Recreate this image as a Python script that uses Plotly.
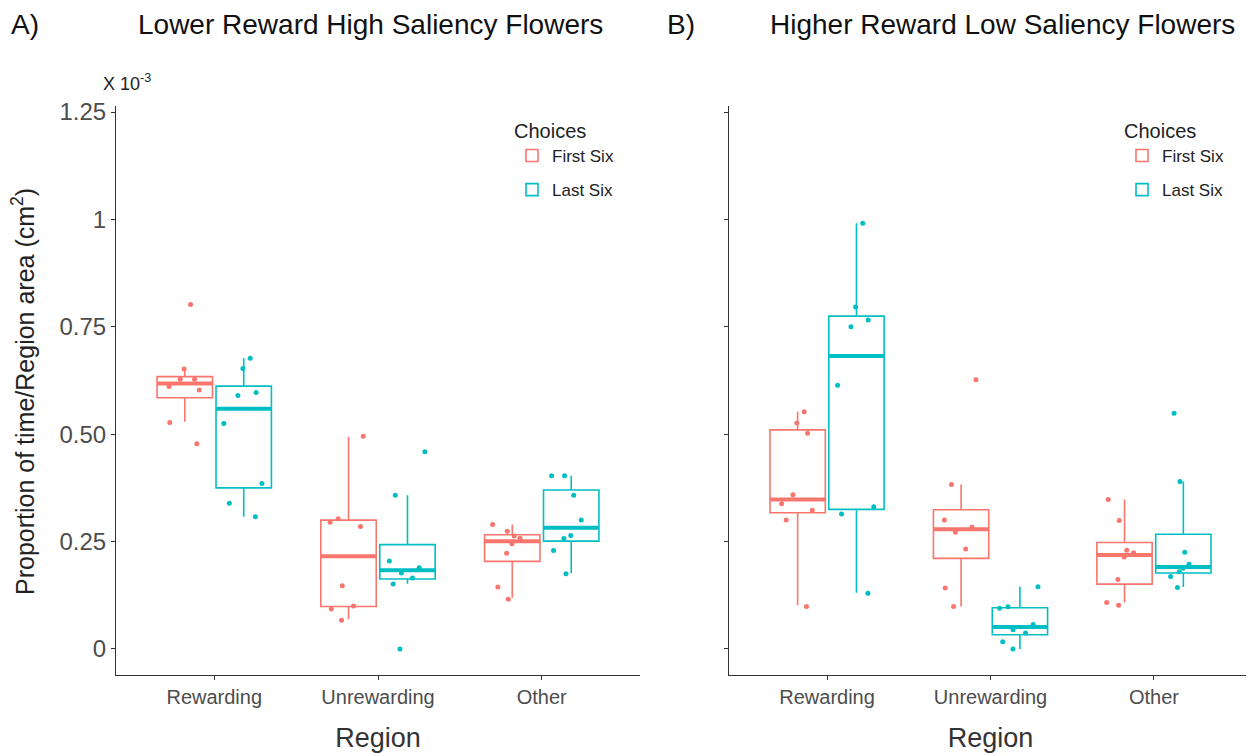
import plotly.graph_objects as go

categories = ["Rewarding", "Unrewarding", "Other"]
groups = ["First Six", "Last Six"]
colors = {"First Six": "#F8766D", "Last Six": "#00BFC4"}

# Individual observations (x 10^-3 proportion of time / region area)
A_first_rewarding = [0.802, 0.652, 0.628, 0.628, 0.611, 0.603, 0.527, 0.478]
A_first_unrewarding = [0.495, 0.303, 0.295, 0.285, 0.147, 0.100, 0.093, 0.067]
A_first_other = [0.290, 0.274, 0.263, 0.258, 0.245, 0.223, 0.144, 0.116]
A_last_rewarding = [0.677, 0.653, 0.597, 0.590, 0.525, 0.385, 0.339, 0.308]
A_last_unrewarding = [0.459, 0.358, 0.205, 0.189, 0.177, 0.165, 0.151, 0.000]
A_last_other = [0.403, 0.403, 0.358, 0.300, 0.264, 0.257, 0.229, 0.175]

B_first_rewarding = [0.552, 0.526, 0.502, 0.359, 0.338, 0.323, 0.300, 0.099]
B_first_unrewarding = [0.627, 0.383, 0.300, 0.284, 0.272, 0.233, 0.142, 0.099]
B_first_other = [0.348, 0.299, 0.230, 0.224, 0.214, 0.162, 0.108, 0.102]
B_last_rewarding = [0.991, 0.796, 0.766, 0.750, 0.614, 0.331, 0.314, 0.130]
B_last_unrewarding = [0.145, 0.098, 0.095, 0.057, 0.045, 0.037, 0.017, 0.000]
B_last_other = [0.549, 0.390, 0.225, 0.197, 0.188, 0.180, 0.169, 0.143]

# Box statistics per category: Rewarding, Unrewarding, Other
A_first_q1 = [0.585, 0.099, 0.204]
A_first_median = [0.618, 0.216, 0.251]
A_first_q3 = [0.634, 0.300, 0.266]
A_first_lo = [0.529, 0.069, 0.119]
A_first_hi = [0.652, 0.494, 0.290]
A_last_q1 = [0.375, 0.163, 0.251]
A_last_median = [0.559, 0.183, 0.282]
A_last_q3 = [0.612, 0.243, 0.370]
A_last_lo = [0.308, 0.152, 0.176]
A_last_hi = [0.677, 0.358, 0.403]

B_first_q1 = [0.317, 0.211, 0.151]
B_first_median = [0.348, 0.279, 0.219]
B_first_q3 = [0.510, 0.324, 0.248]
B_first_lo = [0.102, 0.099, 0.108]
B_first_hi = [0.552, 0.383, 0.348]
B_last_q1 = [0.325, 0.033, 0.177]
B_last_median = [0.682, 0.051, 0.191]
B_last_q3 = [0.775, 0.096, 0.267]
B_last_lo = [0.131, 0.000, 0.144]
B_last_hi = [0.991, 0.145, 0.390]

y_tickvals = [0, 0.25, 0.5, 0.75, 1, 1.25]
y_ticktext = ["0", "0.25", "0.50", "0.75", "1", "1.25"]

panels = {
    "A": {
        "First Six": ([A_first_rewarding, A_first_unrewarding, A_first_other],
                      (A_first_q1, A_first_median, A_first_q3, A_first_lo, A_first_hi)),
        "Last Six": ([A_last_rewarding, A_last_unrewarding, A_last_other],
                     (A_last_q1, A_last_median, A_last_q3, A_last_lo, A_last_hi)),
    },
    "B": {
        "First Six": ([B_first_rewarding, B_first_unrewarding, B_first_other],
                      (B_first_q1, B_first_median, B_first_q3, B_first_lo, B_first_hi)),
        "Last Six": ([B_last_rewarding, B_last_unrewarding, B_last_other],
                     (B_last_q1, B_last_median, B_last_q3, B_last_lo, B_last_hi)),
    },
}

axes = {"A": ("x", "y", "legend"), "B": ("x2", "y2", "legend2")}

fig = go.Figure()
for pname, pdata in panels.items():
    xa, ya, leg = axes[pname]
    for g in groups:
        pts, (q1, med, q3, lo, hi) = pdata[g]
        col = colors[g]
        og = g.replace(" ", "")
        fig.add_trace(go.Box(
            x=categories, q1=q1, median=med, q3=q3, lowerfence=lo, upperfence=hi,
            name=g, legend=leg, showlegend=True, legendgroup=pname + g,
            line=dict(color=col, width=1.6), fillcolor="rgba(255,255,255,0)",
            whiskerwidth=0, boxpoints=False, xaxis=xa, yaxis=ya,
            offsetgroup=og, alignmentgroup=pname, hoverinfo="skip",
        ))
        fig.add_trace(go.Box(
            x=categories, q1=med, median=med, q3=med, lowerfence=med, upperfence=med,
            name=g, showlegend=False, legendgroup=pname + g,
            line=dict(color=col, width=4), fillcolor="rgba(255,255,255,0)",
            whiskerwidth=0, boxpoints=False, xaxis=xa, yaxis=ya,
            offsetgroup=og, alignmentgroup=pname, hoverinfo="skip",
        ))
        xs, ys = [], []
        for c, vals in zip(categories, pts):
            xs += [c] * len(vals)
            ys += vals
        fig.add_trace(go.Box(
            x=xs, y=ys, name=g, showlegend=False, legendgroup=pname + g,
            boxpoints="all", jitter=0.85, pointpos=0,
            line=dict(color="rgba(0,0,0,0)", width=0), fillcolor="rgba(0,0,0,0)",
            whiskerwidth=0,
            marker=dict(color=col, size=5, line=dict(width=0)),
            xaxis=xa, yaxis=ya, offsetgroup=og, alignmentgroup=pname,
        ))

W, H = 1254, 756
OFF = 8  # page body margin offset


def fx(px):
    return (px - OFF) / W


def fy(py):
    return 1 - (py - OFF) / H


font_family = "Arial, Liberation Sans, sans-serif"
axis_common = dict(
    showline=True, linecolor="#333333", linewidth=1.2, mirror=False,
    ticks="outside", tickcolor="#333333", ticklen=4, tickwidth=1.2,
    showgrid=False, zeroline=False,
)
y_range = [-0.0605, 1.264]
ydom = [fy(674), fy(99)]
legend_common = dict(
    xanchor="left", yanchor="top",
    title=dict(text="Choices", font=dict(size=20, color="#222222")),
    font=dict(size=17, color="#222222"), bgcolor="rgba(0,0,0,0)",
    tracegroupgap=9, itemwidth=30,
)

fig.update_layout(
    width=W, height=H,
    margin=dict(l=0, r=0, t=0, b=0),
    paper_bgcolor="white", plot_bgcolor="white",
    font=dict(family=font_family, color="#222222"),
    boxmode="group", boxgap=0.28, boxgroupgap=0.06,
    xaxis=dict(domain=[fx(116), fx(640)], range=[-0.6, 2.6], type="category",
               categoryorder="array", categoryarray=categories,
               tickfont=dict(size=20, color="#4d4d4d"),
               title=dict(text="Region", font=dict(size=27, color="#333333"), standoff=21),
               **axis_common),
    xaxis2=dict(domain=[fx(729), fx(1252)], range=[-0.6, 2.6], type="category",
                categoryorder="array", categoryarray=categories,
                tickfont=dict(size=20, color="#4d4d4d"),
                title=dict(text="Region", font=dict(size=27, color="#333333"), standoff=21),
                **axis_common),
    yaxis=dict(domain=ydom, range=y_range, tickvals=y_tickvals, ticktext=y_ticktext,
               tickfont=dict(size=24, color="#4d4d4d"), anchor="x", **axis_common),
    yaxis2=dict(domain=ydom, range=y_range, tickvals=y_tickvals, showticklabels=False,
                anchor="x2", **axis_common),
    legend=dict(x=fx(512), y=fy(105), **legend_common),
    legend2=dict(x=fx(1122), y=fy(105), **legend_common),
    annotations=[
        dict(text="A)", x=fx(9), y=fy(17), xref="paper", yref="paper",
             xanchor="left", yanchor="middle", showarrow=False,
             font=dict(size=28, color="#111111")),
        dict(text="Lower Reward High Saliency Flowers", x=fx(370), y=fy(17),
             xref="paper", yref="paper", xanchor="center", yanchor="middle",
             showarrow=False, font=dict(size=28, color="#111111")),
        dict(text="B)", x=fx(665), y=fy(17), xref="paper", yref="paper",
             xanchor="left", yanchor="middle", showarrow=False,
             font=dict(size=28, color="#111111")),
        dict(text="Higher Reward Low Saliency Flowers", x=fx(1002), y=fy(17),
             xref="paper", yref="paper", xanchor="center", yanchor="middle",
             showarrow=False, font=dict(size=28, color="#111111")),
        dict(text="X 10<sup>-3</sup>", x=fx(101), y=fy(75), xref="paper", yref="paper",
             xanchor="left", yanchor="middle", showarrow=False,
             font=dict(size=18, color="#222222")),
        dict(text="Proportion of time/Region area (cm<sup>2</sup>)", x=fx(23), y=fy(388),
             xref="paper", yref="paper", xanchor="center", yanchor="middle",
             textangle=-90, showarrow=False, font=dict(size=25, color="#222222")),
    ],
)

fig.write_html("out.html")
